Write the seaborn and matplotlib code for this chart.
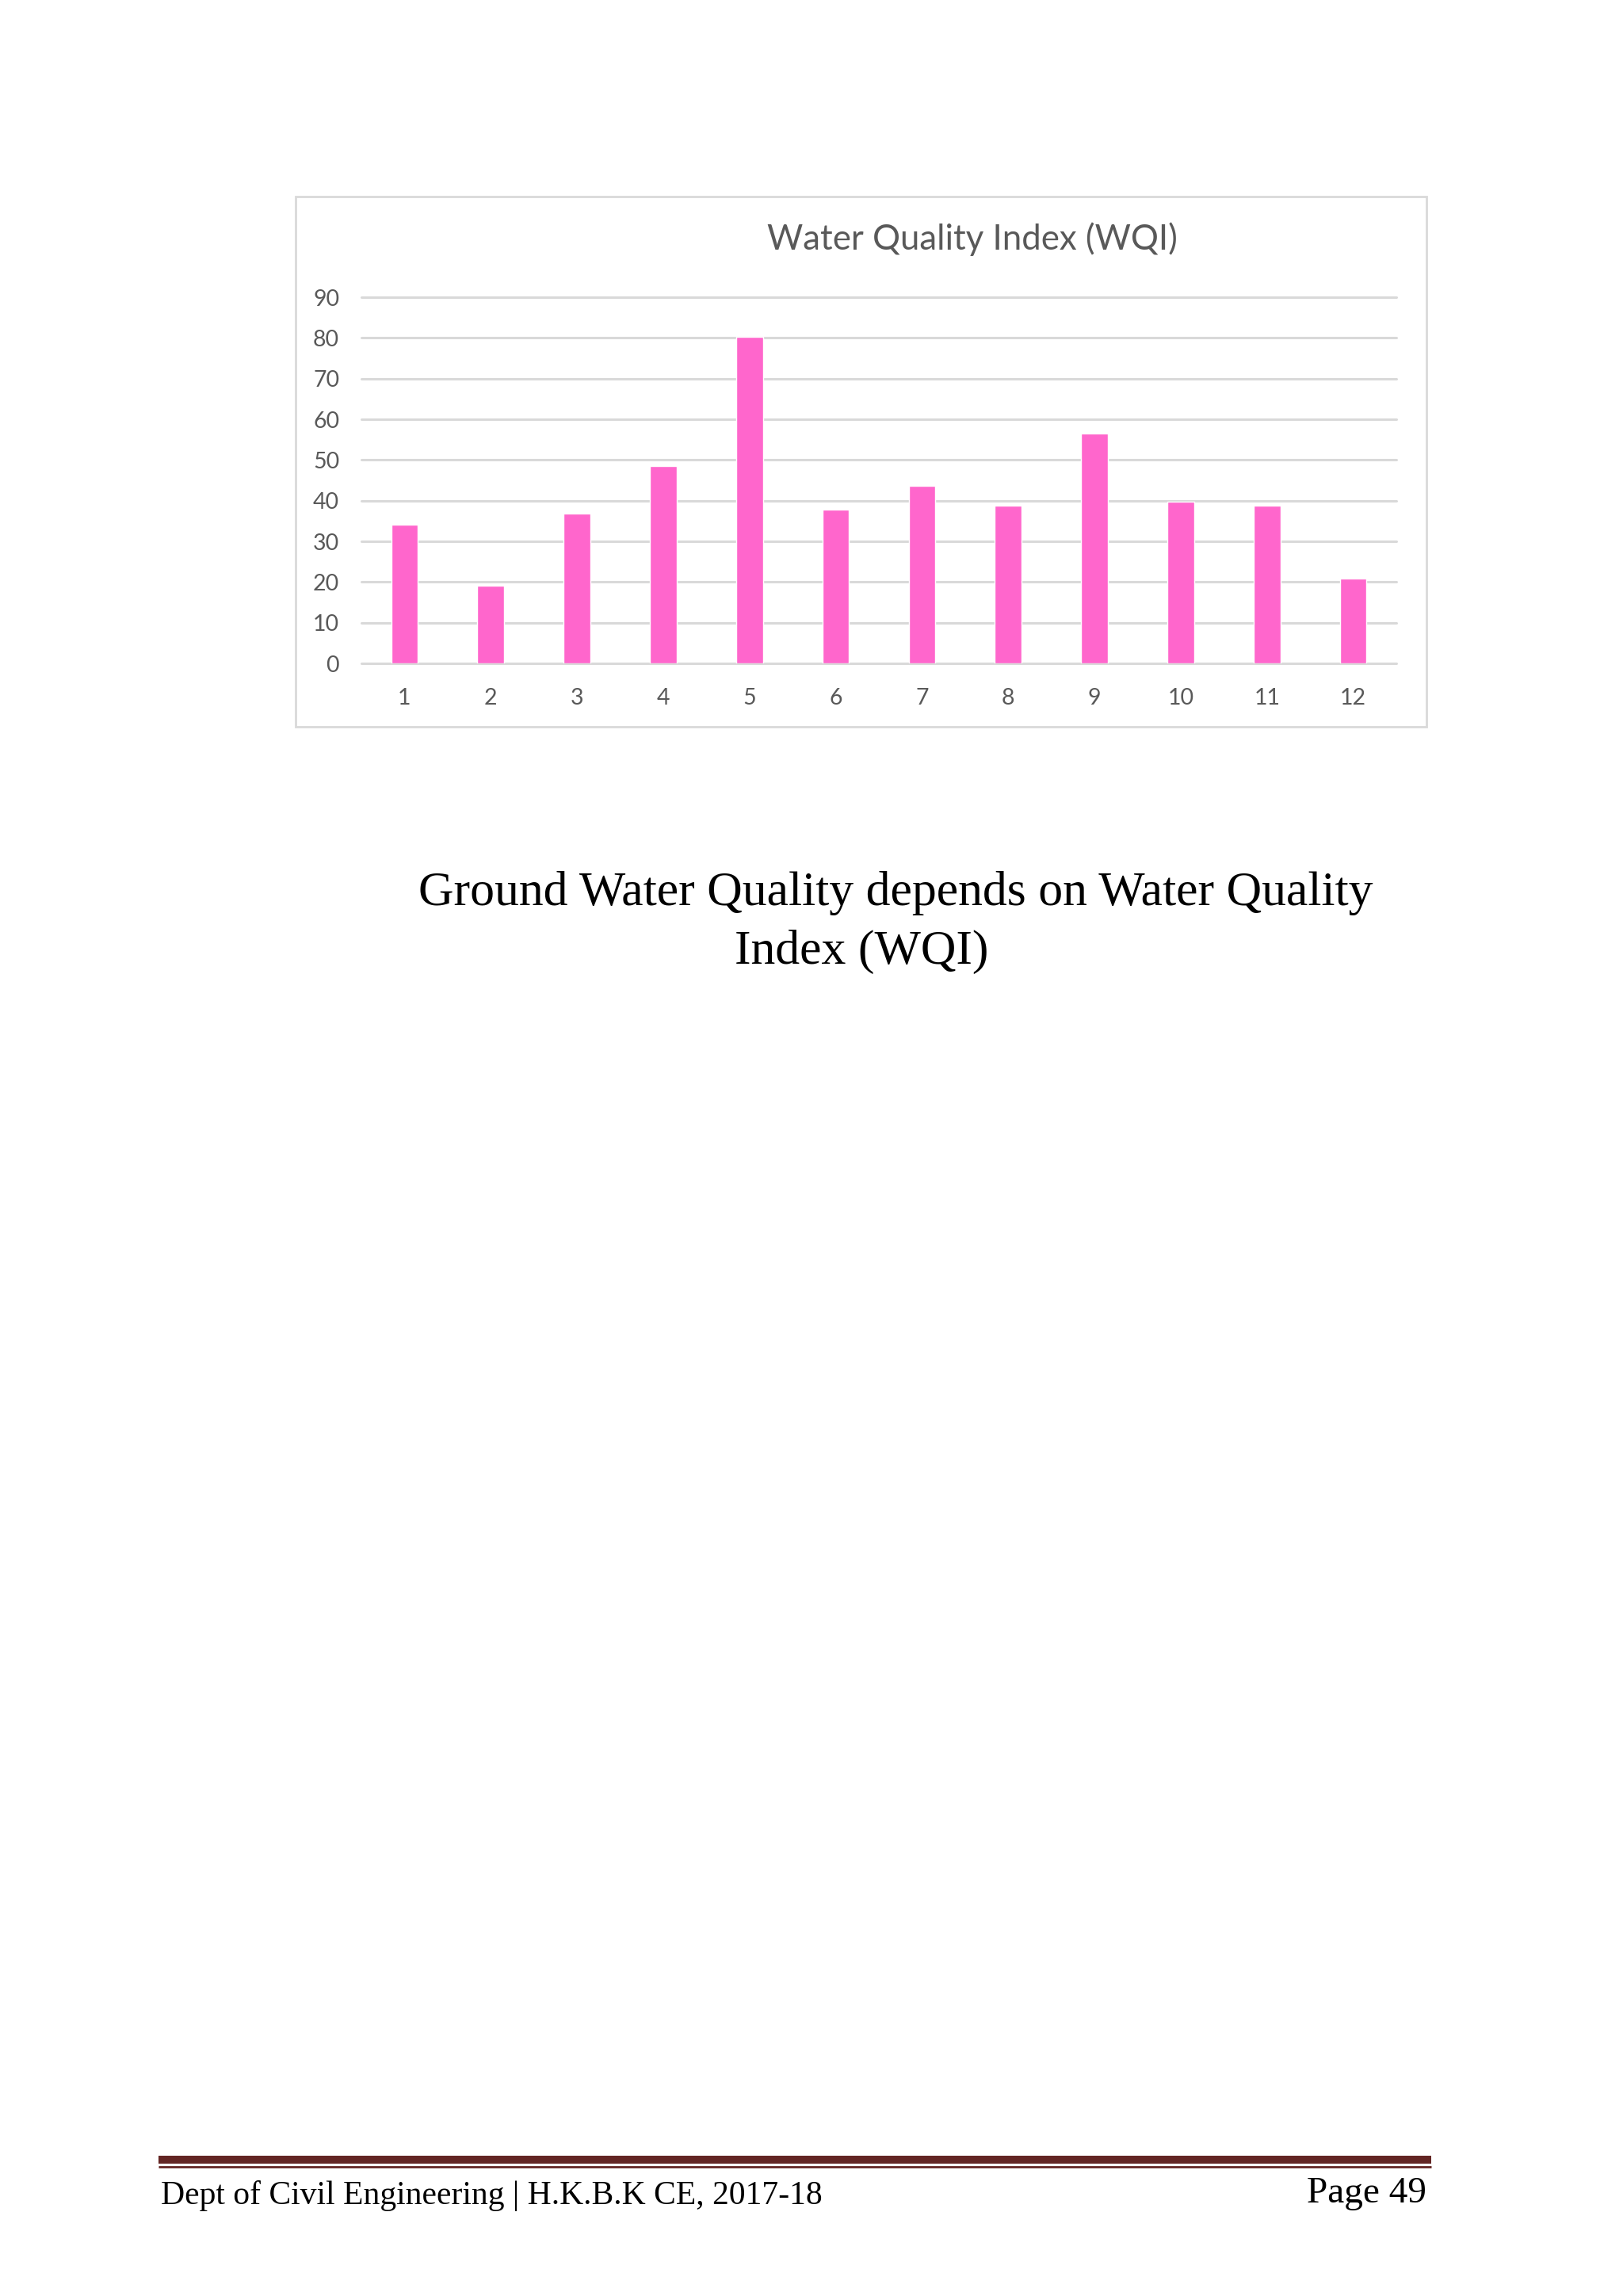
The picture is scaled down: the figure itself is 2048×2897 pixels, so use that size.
import matplotlib
matplotlib.use("Agg")
import matplotlib.pyplot as plt
import seaborn as sns
import pandas as pd
from matplotlib.patches import Rectangle
from matplotlib.lines import Line2D

# -----------------------------------------------------------------------------
# DATA
# -----------------------------------------------------------------------------
sample_ids = ["1", "2", "3", "4", "5", "6", "7", "8", "9", "10", "11", "12"]
wqi_values = [34.0, 19.1, 36.9, 48.6, 80.2, 37.7, 43.7, 38.8, 56.5, 39.7, 38.8, 20.9]
y_ticks = [0, 10, 20, 30, 40, 50, 60, 70, 80, 90]

chart_title = "Water Quality Index (WQI)"
caption_line1 = "Ground Water Quality depends on Water Quality"
caption_line2 = "Index (WQI)"
footer_left = "Dept of Civil Engineering | H.K.B.K CE, 2017-18"
footer_right = "Page 49"

# -----------------------------------------------------------------------------
# STYLE
# -----------------------------------------------------------------------------
sns.set_theme(style="whitegrid")
plt.rcParams["font.family"] = ["Lato", "DejaVu Sans"]
SERIF = ["Liberation Serif", "DejaVu Serif"]

W, H = 2048, 2897
fig = plt.figure(figsize=(W / 100, H / 100), dpi=100)
fig.patch.set_facecolor("white")

def fx(px):
    return px / W

def fy(py):
    return 1 - py / H

# chart border (Excel chart area)
fig.patches.append(Rectangle((fx(373), fy(917)), fx(1800) - fx(373), fy(248) - fy(917),
                             transform=fig.transFigure, fill=False,
                             edgecolor="#d9d9d9", linewidth=2))

# plot area
ax = fig.add_axes([fx(456), fy(837), fx(1762) - fx(456), fy(375) - fy(837)])
df = pd.DataFrame({"sample": sample_ids, "wqi": wqi_values})
sns.barplot(data=df, x="sample", y="wqi", color="#FF66CC", width=0.31,
            saturation=1, ax=ax, zorder=3)

ax.set_xlim(-0.5, len(sample_ids) - 0.5)
ax.set_ylim(0, 90)
ax.set_yticks(y_ticks)
ax.set_facecolor("white")
ax.grid(axis="y", color="#d9d9d9", linewidth=2.2, zorder=0)
ax.grid(axis="x", visible=False)
for gl in ax.get_ygridlines():
    gl.set_clip_on(False)
for s in ax.spines.values():
    s.set_visible(False)
ax.set_xlabel("")
ax.set_ylabel("")
ax.tick_params(axis="both", length=0, labelsize=20.5, labelcolor="#595959")
ax.tick_params(axis="y", pad=20)
ax.tick_params(axis="x", pad=22)

fig.text(fx(1227), fy(302), chart_title, ha="center", va="center",
         fontsize=31.5, color="#595959")

# caption below chart
fig.text(fx(1130), fy(1127), caption_line1, ha="center", va="center",
         fontsize=44.5, family=SERIF, color="black")
fig.text(fx(1087), fy(1201), caption_line2, ha="center", va="center",
         fontsize=44.5, family=SERIF, color="black")

# footer rules
fig.add_artist(Line2D([fx(200), fx(1806)], [fy(2725), fy(2725)],
                      transform=fig.transFigure, color="#632523", linewidth=7.2,
                      solid_capstyle="butt"))
fig.add_artist(Line2D([fx(200), fx(1806)], [fy(2734), fy(2734)],
                      transform=fig.transFigure, color="#632523", linewidth=2,
                      solid_capstyle="butt"))

fig.text(fx(203), fy(2771), footer_left, ha="left", va="center",
         fontsize=30, family=SERIF, color="black")
fig.text(fx(1800), fy(2768), footer_right, ha="right", va="center",
         fontsize=34, family=SERIF, color="black")

fig.savefig("out.png", dpi=100, facecolor="white")
